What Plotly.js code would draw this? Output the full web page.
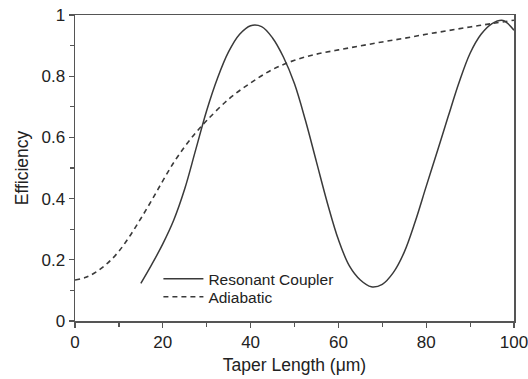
<!DOCTYPE html>
<html>
<head>
<meta charset="utf-8">
<script src="https://cdn.plot.ly/plotly-3.0.1.min.js"></script>
<style>html,body{margin:0;padding:0;background:#fff}#chart{width:528px;height:379px}</style>
</head>
<body>
<div id="chart"></div>
<script>
const resonantX = [15, 17.5, 20, 22.5, 25, 27.5, 30, 32.5, 35, 37.5, 40, 42.5, 45, 47.5, 50, 52.5, 55, 57.5, 60, 62.5, 65, 67.5, 70, 72.5, 75, 77.5, 80, 82.5, 85, 87.5, 90, 92.5, 95, 97.5, 100];
const resonantY = [0.123, 0.185, 0.252, 0.33, 0.432, 0.56, 0.688, 0.795, 0.88, 0.937, 0.965, 0.962, 0.925, 0.862, 0.775, 0.655, 0.52, 0.385, 0.266, 0.18, 0.134, 0.112, 0.12, 0.158, 0.225, 0.325, 0.44, 0.553, 0.668, 0.78, 0.875, 0.937, 0.972, 0.982, 0.95];
const adiabaticX = [0, 2.5, 5, 7.5, 10, 12.5, 15, 17.5, 20, 22.5, 25, 27.5, 30, 35, 40, 45, 50, 55, 60, 65, 70, 75, 80, 85, 90, 95, 100];
const adiabaticY = [0.134, 0.143, 0.162, 0.19, 0.228, 0.278, 0.335, 0.395, 0.458, 0.518, 0.57, 0.615, 0.655, 0.725, 0.778, 0.822, 0.852, 0.872, 0.886, 0.899, 0.912, 0.924, 0.937, 0.949, 0.961, 0.972, 0.983];
const xTicks = [0, 20, 40, 60, 80, 100];
const yTicks = [0, 0.2, 0.4, 0.6, 0.8, 1];
const yTickLabels = ['0', '0.2', '0.4', '0.6', '0.8', '1'];

const lineColor = '#3a3a3a';
const axisColor = '#555';
const textColor = '#222';
const font = 'Liberation Sans, Arial, sans-serif';

const traces = [
  {x: resonantX, y: resonantY, name: 'Resonant Coupler', mode: 'lines', legend: 'legend',
   line: {color: lineColor, width: 1.5, shape: 'spline', smoothing: 1}},
  {x: adiabaticX, y: adiabaticY, name: 'Adiabatic', mode: 'lines', legend: 'legend2',
   line: {color: lineColor, width: 1.6, dash: '5px,4px', shape: 'spline', smoothing: 1}}
];

const legendFont = {size: 15.5, family: font, color: textColor};
const layout = {
  width: 528, height: 379,
  margin: {l: 75, r: 14, t: 15, b: 58},
  paper_bgcolor: '#fff', plot_bgcolor: '#fff',
  font: {family: font, color: textColor, size: 17},
  showlegend: true,
  legend: {x: 0.19, y: 0.137, xanchor: 'left', yanchor: 'middle', bgcolor: 'rgba(0,0,0,0)',
           font: legendFont, itemwidth: 40},
  legend2: {x: 0.19, y: 0.078, xanchor: 'left', yanchor: 'middle', bgcolor: 'rgba(0,0,0,0)',
           font: legendFont, itemwidth: 40},
  xaxis: {
    range: [0, 100], tickvals: xTicks, ticktext: xTicks.map(String), ticklabeloverflow: 'allow',
    showgrid: false, zeroline: false, showline: true, linecolor: axisColor, linewidth: 1.5,
    mirror: true, ticks: 'outside', ticklen: 5, tickcolor: axisColor, tickwidth: 1.2,
    minor: {dtick: 10, tick0: 0, ticks: 'outside', ticklen: 4, tickcolor: axisColor, showgrid: false},
    tickfont: {size: 17, family: font, color: textColor},
    title: {text: 'Taper Length (\u03bcm)', font: {size: 17.5, family: font, color: textColor}, standoff: 8}
  },
  yaxis: {
    range: [0, 1], tickvals: yTicks, ticktext: yTickLabels, ticklabeloverflow: 'allow',
    showgrid: false, zeroline: false, showline: true, linecolor: axisColor, linewidth: 1.5,
    mirror: true, ticks: 'outside', ticklen: 5, tickcolor: axisColor, tickwidth: 1.2,
    minor: {dtick: 0.1, tick0: 0, ticks: 'outside', ticklen: 4, tickcolor: axisColor, showgrid: false},
    tickfont: {size: 17, family: font, color: textColor},
    title: {text: 'Efficiency', font: {size: 17.5, family: font, color: textColor}, standoff: 8}
  }
};

Plotly.newPlot('chart', traces, layout, {staticPlot: true, displayModeBar: false});
</script>
</body>
</html>
